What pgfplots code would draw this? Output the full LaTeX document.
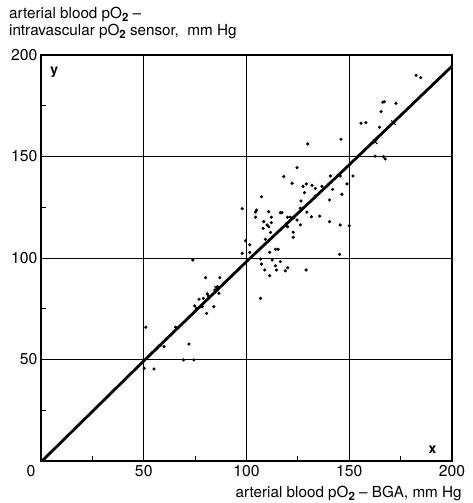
\documentclass[border=0pt]{standalone}
\usepackage{fontspec}
\setmainfont{TeX Gyre Heros}
\usepackage{pgfplots}
\pgfplotsset{compat=1.18}
\newcommand{\sub}[1]{\raisebox{-0.4ex}{\fontsize{11.5}{12}\selectfont\bfseries #1}}
\begin{document}
\begin{tikzpicture}
\useasboundingbox (0,0) rectangle (473bp,503bp);
\begin{axis}[
  at={(41bp,42bp)}, anchor=south west,
  scale only axis, width=411bp, height=406bp,
  xmin=0, xmax=200, ymin=0, ymax=200,
  xtick={50,100,150,200}, ytick={50,100,150,200},
  minor xtick={25,75,125,175}, minor ytick={25,75,125,175},
  grid=major, major grid style={black, line width=0.9bp},
  major tick length=0pt, minor tick length=5bp,
  tick pos=left, tick align=inside,
  minor tick style={black, line width=1bp},
  axis line style={black, line width=1.3bp},
  tick label style={font=\fontsize{15.8}{18}\selectfont, black},
  /pgf/number format/assume math mode=true,
  xticklabel style={yshift=-1bp},
  extra x ticks={0},
  extra x tick style={grid=none, major tick length=0pt, xticklabel style={xshift=-10bp}},
  ylabel={arterial blood pO\sub{2} –\\intravascular pO\sub{2} sensor,\ \ mm Hg},
  ylabel style={rotate=-90, align=left, anchor=north west, at={(axis description cs:-0.078,1.118)}, font=\fontsize{15.3}{17}\selectfont, inner sep=0pt},
  xlabel={arterial blood pO\sub{2} – BGA, mm Hg},
  xlabel style={anchor=east, at={(axis description cs:1.024,-0.079)}, font=\fontsize{15.3}{17}\selectfont, inner sep=0pt},
  clip=false,
]
\addplot[black, line width=2.8bp] coordinates {(0.5,0) (50,49.3) (101,99.2) (147,143) (200,194.5)};
\addplot[only marks, mark=*, mark size=1.4bp, black] coordinates {
(182.5,190) (184.8,188.8)
(166.3,176.7) (167.1,177.0) (172.7,176.2) (165.5,172.1)
(155.7,166.4) (158.1,166.7) (164.7,164.4)
(146,158.5) (129.8,156.2)
(162.6,150.2) (166.7,149.9) (167.5,148.8)
(151.8,140.4) (124.6,144.5) (118.1,140.1) (122.2,136.8)
(140.8,140.4) (145.6,140.4)
(127.5,135.3) (129.1,136.5) (131.9,135.8) (133.5,134.3) (136.7,135.3)
(148.9,136.5) (141.9,133.8) (128.2,132.2) (133.5,130.5) (146.4,131.4)
(107.3,130.2) (126.5,128.1) (140.4,128.6)
(97.9,124.3) (104.9,123.6) (104.4,122.7) (110.8,122.8) (116.5,122.3) (117.3,122.3) (126.2,124.5) (129.4,122.6)
(104.4,120.1) (112.1,120.1) (120,120.1) (121.4,120.1) (123,119.8) (124.6,118.7) (131.6,120.3) (135.6,120.6)
(108.4,117.9) (108.1,114.6) (110,116.3) (110.8,115.4) (112.1,117.4) (126.2,116.3) (140.4,117.9) (145.6,116.3) (150,115.9) (120,115.4)
(122.7,112.7) (122.7,110.2) (111.7,112.6) (109.2,109.2) (99.5,108.5) (101.6,106.5)
(97.9,102.3) (101.6,102.8) (111.3,102.8) (114.1,104.3) (115.4,104.3) (145.3,101.8)
(106.8,99.5) (112.5,99) (116.5,98.2)
(107.3,97) (108.9,94.1) (111.3,91.3) (114.1,96.2) (114.6,94.1) (118.9,93.7) (120,95.2) (129,94.1)
(80.1,90.3) (87,90.3) (106.8,80.1) (73.9,99)
(80.9,82.3) (81.4,81.3)
(85.8,85.9) (84.6,84.2) (86.6,82.6) (79,80.1) (76.9,79.7) (74.8,76.4) (75.7,75.2) (78.5,76) (80.6,72.7) (84.1,76)
(65.5,65.9) (51,65.9) (63.1,62.1) (61.5,60.4) (58.3,57.1) (59.9,56.3) (56.6,55.5) (72,57.6) (69.3,49.8) (74.4,49.8) (50.2,45.7) (55,45.3)
};
\addplot[only marks, mark=x, mark size=3.2bp, line width=1.1bp, black] coordinates {(171.5,166.7) (162.6,157.3) (85.4,85)};
\node[font=\fontsize{14}{16}\selectfont\bfseries, inner sep=0pt] at (axis cs:6.5,191.5) {y};
\node[font=\fontsize{14}{16}\selectfont\bfseries, inner sep=0pt] at (axis cs:190.5,5.5) {x};
\end{axis}
\end{tikzpicture}
\end{document}
